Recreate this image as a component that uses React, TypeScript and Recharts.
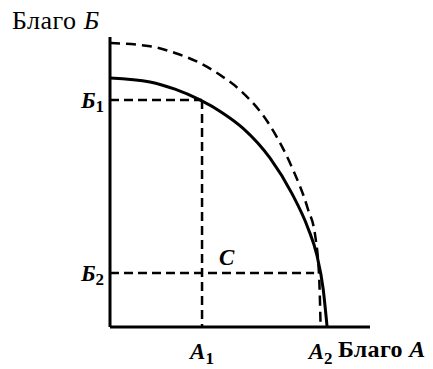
import React from "react";
import { LineChart, Line, XAxis, YAxis, ReferenceLine, ReferenceDot } from "recharts";

// кривая производственных возможностей (сплошная) и сдвинутая (пунктир)
const solidA = [0, 1.54, 2.5, 3.46, 4.3, 5.12, 6.15, 7.0, 7.62, 7.95, 8.2, 8.35];
const solidB = [8.59, 8.45, 8.2, 7.83, 7.4, 6.85, 5.83, 4.6, 3.4, 2.5, 1.3, 0];
const dashedA = [0, 1.54, 2.5, 3.46, 4.3, 5.0, 6.15, 7.0, 7.6, 7.9, 8.05, 8.1];
const dashedB = [9.79, 9.68, 9.45, 9.1, 8.65, 8.17, 6.95, 5.5, 4.1, 3.1, 1.6, 0];

const pointA = [3.54, 8.1]; // A1, A2
const pointB = [7.83, 1.86]; // Б1, Б2

const xTickLabels = ["A", "A"];
const yTickLabels = ["Б", "Б"];

const solidData = solidA.map((a, i) => ({ a, b: solidB[i] }));
const dashedData = dashedA.map((a, i) => ({ a, b: dashedB[i] }));

const serif = '"Liberation Serif", "Times New Roman", serif';
const guide = { stroke: "#000", strokeWidth: 2.5, strokeDasharray: "9 5" };

function XTick({ x, y, payload }: any) {
  const i = pointA.indexOf(payload.value);
  if (i < 0) return null;
  return (
    <text x={x} y={y + 24} textAnchor="middle" fontFamily={serif} fontWeight="bold" fontStyle="italic" fontSize={23} fill="#000">
      {xTickLabels[i]}
      <tspan fontSize={17} dy={5} fontStyle="normal">{i + 1}</tspan>
    </text>
  );
}

function YTick({ x, y, payload }: any) {
  const i = pointB.indexOf(payload.value);
  if (i < 0) return null;
  return (
    <text x={x + 2} y={y + 8} textAnchor="end" fontFamily={serif} fontWeight="bold" fontStyle="italic" fontSize={23} fill="#000">
      {yTickLabels[i]}
      <tspan fontSize={17} dy={4} fontStyle="normal">{i + 1}</tspan>
    </text>
  );
}

export default function App() {
  return (
    <div style={{ position: "relative", width: 433, height: 369, background: "#fff", fontFamily: serif }}>
      <style>{"body{margin:0}"}</style>
      <div style={{ position: "absolute", left: 12, top: 6, fontSize: 26, color: "#000", whiteSpace: "nowrap", letterSpacing: 0.5 }}>
        Благо <i>Б</i>
      </div>
      <div style={{ position: "absolute", left: 338, top: 336, fontSize: 24, fontWeight: "bold", color: "#000", whiteSpace: "nowrap", letterSpacing: 0.3 }}>
        Благо <i>A</i>
      </div>
      <LineChart width={433} height={369} margin={{ top: 37, right: 63, left: 0, bottom: 0 }}>
        <XAxis
          type="number"
          dataKey="a"
          domain={[0, 10]}
          ticks={pointA}
          tick={<XTick />}
          tickLine={false}
          height={42}
          axisLine={{ stroke: "#000", strokeWidth: 3 }}
          allowDataOverflow
        />
        <YAxis
          type="number"
          dataKey="b"
          domain={[0, 10]}
          ticks={pointB}
          tick={<YTick />}
          tickLine={false}
          width={110}
          axisLine={{ stroke: "#000", strokeWidth: 3 }}
          allowDataOverflow
        />
        <ReferenceLine segment={[{ x: 0, y: pointB[0] }, { x: pointA[0], y: pointB[0] }]} {...guide} />
        <ReferenceLine segment={[{ x: pointA[0], y: pointB[0] }, { x: pointA[0], y: 0 }]} {...guide} />
        <ReferenceLine segment={[{ x: 0, y: pointB[1] }, { x: 7.85, y: pointB[1] }]} {...guide} />
        <Line data={dashedData} dataKey="b" type="monotone" stroke="#000" strokeWidth={2.5} strokeDasharray="10 6" dot={false} isAnimationActive={false} />
        <Line data={solidData} dataKey="b" type="monotone" stroke="#000" strokeWidth={3} dot={false} isAnimationActive={false} />
        <ReferenceDot
          x={pointA[0]}
          y={pointB[1]}
          r={0}
          shape={(p: any) => (
            <text x={p.cx + 17} y={p.cy - 8} fontFamily={serif} fontWeight="bold" fontStyle="italic" fontSize={23} fill="#000">
              C
            </text>
          )}
        />
      </LineChart>
    </div>
  );
}
